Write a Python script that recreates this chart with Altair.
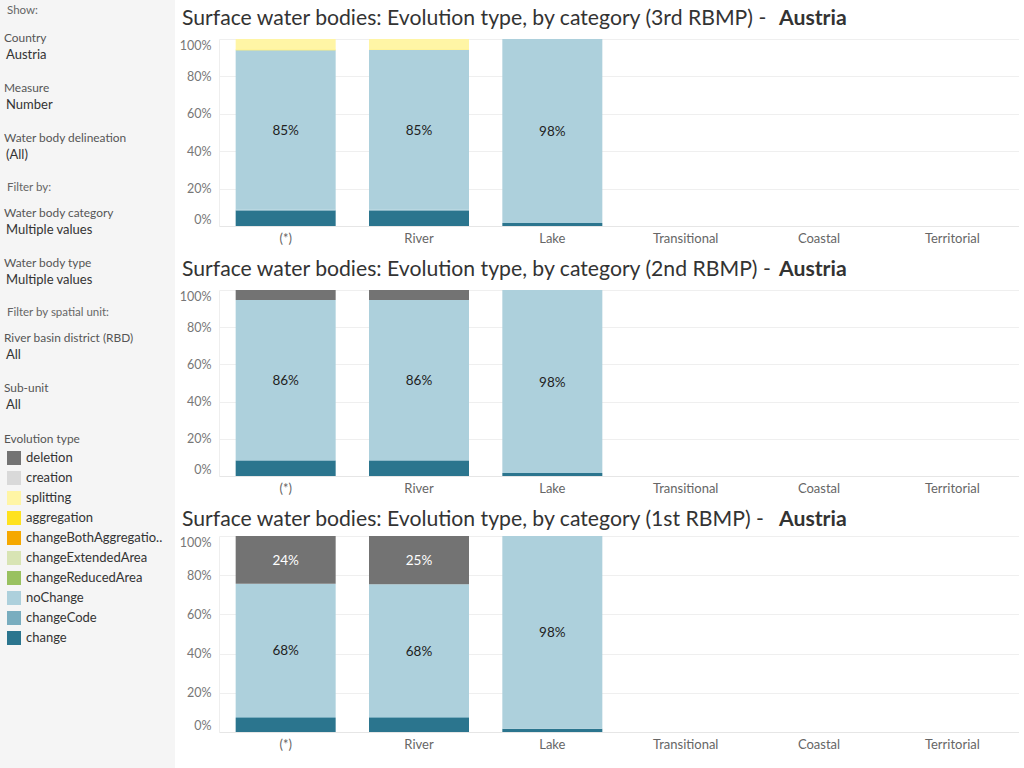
import altair as alt
import pandas as pd

FONT = "Lato"

categories = ["(*)", "River", "Lake", "Transitional", "Coastal", "Territorial"]
evolution_types = ["deletion", "creation", "splitting", "aggregation",
                   "changeBothAggregationAndSplitting", "changeExtendedArea",
                   "changeReducedArea", "noChange", "changeCode", "change"]
legend_labels = ["deletion", "creation", "splitting", "aggregation",
                 "changeBothAggregatio..", "changeExtendedArea",
                 "changeReducedArea", "noChange", "changeCode", "change"]
type_colors = ["#737373", "#d9d9d9", "#fff5a5", "#ffe21f", "#f5a800",
               "#d8e4b4", "#99c160", "#add0dc", "#79adbf", "#2b758e"]

plans = ["3rd RBMP", "2nd RBMP", "1st RBMP"]
country = "Austria"

# shares (%) per category, in evolution_types order
rbmp3_all = [0, 0, 5.6, 0.4, 0, 0, 0, 85.3, 0.4, 8.3]
rbmp3_river = [0, 0, 5.6, 0.3, 0, 0, 0, 85.4, 0.4, 8.3]
rbmp3_lake = [0, 0, 0, 0, 0, 0, 0, 98.4, 0, 1.6]
rbmp2_all = [5.4, 0, 0, 0, 0, 0, 0, 86.0, 0.4, 8.2]
rbmp2_river = [5.4, 0, 0, 0, 0, 0, 0, 86.0, 0.4, 8.2]
rbmp2_lake = [0, 0, 0, 0, 0, 0, 0, 98.4, 0, 1.6]
rbmp1_all = [24.4, 0, 0, 0, 0, 0, 0, 68.0, 0.5, 7.1]
rbmp1_river = [24.6, 0, 0, 0, 0, 0, 0, 67.8, 0.5, 7.1]
rbmp1_lake = [0, 0, 0, 0, 0, 0, 0, 98.4, 0, 1.6]

plan_values = {
    "3rd RBMP": {"(*)": rbmp3_all, "River": rbmp3_river, "Lake": rbmp3_lake},
    "2nd RBMP": {"(*)": rbmp2_all, "River": rbmp2_river, "Lake": rbmp2_lake},
    "1st RBMP": {"(*)": rbmp1_all, "River": rbmp1_river, "Lake": rbmp1_lake},
}

rows = []
for plan, cats in plan_values.items():
    for cat, vals in cats.items():
        cum = 0.0
        # stack from bottom: last legend entry is at the bottom
        for idx in range(len(evolution_types) - 1, -1, -1):
            v = vals[idx]
            if v <= 0:
                continue
            t = evolution_types[idx]
            rows.append({
                "plan": plan, "category": cat, "type": t, "value": v,
                "order": len(evolution_types) - 1 - idx,
                "mid": cum + v / 2,
                "label": f"{round(v)}%" if v >= 10 else "",
                "tcolor": "#ffffff" if t == "deletion" else "#222222",
            })
            cum += v
df = pd.DataFrame(rows)

color_scale = alt.Scale(domain=evolution_types, range=type_colors)
x_scale = alt.Scale(domain=categories, paddingInner=0.25, paddingOuter=0.125)
y_scale = alt.Scale(domain=[0, 100], nice=False)

x_axis = alt.Axis(title=None, labelAngle=0, ticks=False, grid=False,
                  domainColor="#e6e6e6", labelColor="#666666",
                  labelFont=FONT, labelFontSize=13, labelPadding=6)

y_axis = alt.Axis(title=None, values=[0, 20, 40, 60, 80, 100],
                  labelExpr="datum.value + '%'", labelFlush=True, labelOverlap=False,
                  ticks=False, domainColor="#eeeeee", gridColor="#efefef",
                  labelColor="#777777", labelFont=FONT, labelFontSize=12.5,
                  labelPadding=8)


def plan_chart(plan, height, title_y, guard=None):
    d = df[df.plan == plan]
    bars = alt.Chart(d).mark_bar(size=100).encode(
        x=alt.X("category:N", sort=categories, scale=x_scale, axis=x_axis),
        y=alt.Y("value:Q", stack="zero", scale=y_scale, axis=y_axis),
        color=alt.Color("type:N", scale=color_scale, legend=None),
        order=alt.Order("order:Q", sort="ascending"),
    )
    labels = alt.Chart(d[d.label != ""]).mark_text(
        font=FONT, fontSize=13.5, baseline="middle", align="center", dy=1
    ).encode(
        x=alt.X("category:N", sort=categories, scale=x_scale, axis=x_axis),
        y=alt.Y("mid:Q", scale=y_scale, axis=y_axis),
        text="label:N",
        color=alt.Color("tcolor:N", scale=None),
    )
    t1 = alt.Chart(pd.DataFrame({"t": [f"Surface water bodies: Evolution type, by category ({plan}) -"]})).mark_text(
        font=FONT, fontSize=21.2, align="left", baseline="middle", color="#333333"
    ).encode(text="t:N", x=alt.value(-37), y=alt.value(title_y))
    t2 = alt.Chart(pd.DataFrame({"t": [country]})).mark_text(
        font=FONT, fontSize=21.2, fontWeight="bold", align="left", baseline="middle", color="#333333"
    ).encode(text="t:N", x=alt.value(560), y=alt.value(title_y))
    layers = [bars, labels, t1, t2]
    if guard is not None:
        g = alt.Chart(pd.DataFrame({"g": [0]})).mark_rule(color="#ffffff", strokeWidth=1).encode(
            x=alt.value(0), x2=alt.value(5), y=alt.value(guard))
        layers.append(g)
    return alt.layer(*layers).properties(width=800, height=height)


TOP = 39  # distance from the page top to the first plot area

c3 = plan_chart("3rd RBMP", 187, -20, guard=-TOP + 0.5)
c2 = plan_chart("2nd RBMP", 186, -20)
c1 = plan_chart("1st RBMP", 196, -16)
main = alt.vconcat(c3, c2, c1, spacing=14)

# ---- sidebar (y positions in page pixels) ----
head_texts = ["Show:", "Filter by:", "Filter by spatial unit:"]
head_y = [11, 188, 313]
field_texts = ["Country", "Measure", "Water body delineation", "Water body category",
               "Water body type", "River basin district (RBD)", "Sub-unit", "Evolution type"]
field_y = [38, 88, 138, 213, 263, 338, 388, 439]
value_texts = ["Austria", "Number", "(All)", "Multiple values", "Multiple values", "All", "All"]
value_y = [55, 105, 155, 230, 280, 355, 405]
legend_y = [458 + 20 * i for i in range(len(evolution_types))]


def side_text(texts, ys, x, size, color):
    return alt.Chart(pd.DataFrame({"t": texts, "y": [v - TOP for v in ys]})).mark_text(
        font=FONT, fontSize=size, align="left", baseline="middle", color=color
    ).encode(text="t:N", x=alt.value(x), y=alt.Y("y:Q", scale=None))


side_bg = alt.Chart(pd.DataFrame({"g": [0]})).mark_rect(color="#f5f5f5").encode(
    x=alt.value(0), x2=alt.value(175), y=alt.value(-TOP), y2=alt.value(768 - TOP))
heads = side_text(head_texts, head_y, 7, 11.5, "#666666")
fields = side_text(field_texts, field_y, 4, 11.9, "#555555")
values = side_text(value_texts, value_y, 6, 13, "#333333")
leg_labels = side_text(legend_labels, legend_y, 26, 13, "#333333")
swatches = alt.Chart(pd.DataFrame({"type": evolution_types, "y": [v - TOP for v in legend_y]})).mark_square(
    size=196, opacity=1
).encode(
    x=alt.value(14), y=alt.Y("y:Q", scale=None),
    color=alt.Color("type:N", scale=color_scale, legend=None),
)

sidebar = alt.layer(side_bg, heads, fields, values, swatches, leg_labels).properties(
    width=175, height=768 - TOP
)

chart = alt.hconcat(sidebar, main, spacing=4).properties(
    padding=0, background="#ffffff"
).configure_view(stroke=None)

chart.save("out.html", embed_options={"renderer": "svg", "actions": False})
